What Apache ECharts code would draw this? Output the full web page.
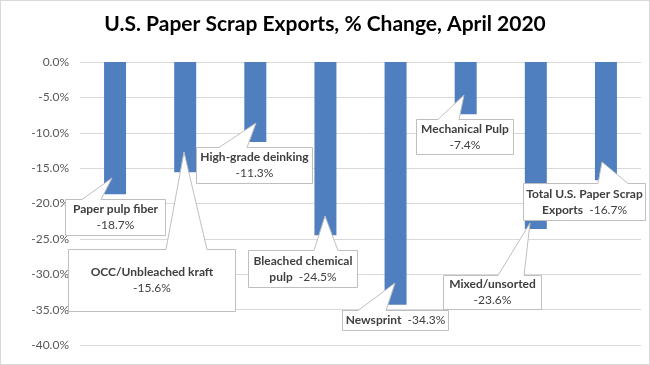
<!DOCTYPE html>
<html>
<head>
<meta charset="utf-8">
<script src="https://cdn.jsdelivr.net/npm/echarts@6/dist/echarts.min.js"></script>
<style>
html,body{margin:0;padding:0;background:#fff;}
#chart{width:648px;height:363px;border:1px solid #d9d9d9;}
</style>
</head>
<body>
<div id="chart"></div>
<script>
const titleText = 'U.S. Paper Scrap Exports, % Change, April 2020';
const categories = ['Paper pulp fiber','OCC/Unbleached kraft','High-grade deinking','Bleached chemical pulp','Newsprint','Mechanical Pulp','Mixed/unsorted','Total U.S. Paper Scrap Exports'];
const values = [-18.7, -15.6, -11.3, -24.5, -34.3, -7.4, -23.6, -16.7];
const calloutNames = ['Paper pulp fiber','OCC/Unbleached kraft','High-grade deinking','Bleached chemical\npulp','Newsprint','Mechanical Pulp','Mixed/unsorted','Total U.S. Paper Scrap\nExports'];
const yMin = -40, yMax = 0, yStep = 5;

// callout layout (pixel offsets relative to bar centre / bar end)
const calloutLayout = [
  {tip:[-3,-16], box:[-50,5,50,41],   base:[-33,-14], inline:false},
  {tip:[-1,-20], box:[-117,77,50,139], base:[-19,22],  inline:false},
  {tip:[1,-19],  box:[-59,5,57,41],   base:[-36,-8],  inline:false},
  {tip:[0,-19],  box:[-77,15,32,52],  base:[-11,13],  inline:true},
  {tip:[-1,-22], box:[-54,5,52,25],   base:[-38,-10], inline:true},
  {tip:[-2,-19], box:[-50,5,47,40],   base:[-28,-7],  inline:false},
  {tip:[-6,-6],  box:[-93,46,5,80],   base:[-38,-12], inline:false},
  {tip:[-4,-18], box:[-83,3,39,40],   base:[-8,22],   inline:true}
];

const fmt = v => v.toFixed(1) + '%';
const chart = echarts.init(document.getElementById('chart'));

function renderCallout(params, api) {
  const i = params.dataIndex;
  const L = calloutLayout[i];
  const p = api.coord([api.value(0), api.value(1)]);
  const cx = Math.round(p[0]), ey = Math.round(p[1]);
  const x0 = cx + L.box[0] + 0.5, y0 = ey + L.box[1] + 0.5;
  const x1 = cx + L.box[2] + 0.5, y1 = ey + L.box[3] + 0.5;
  const pts = [
    [x0, y0], [cx + L.base[0], y0], [cx + L.tip[0], ey + L.tip[1]],
    [cx + L.base[1], y0], [x1, y0], [x1, y1], [x0, y1]
  ];
  const lines = calloutNames[i].split('\n');
  const val = fmt(values[i]);
  let txt = lines.map(s => '{b|' + s + '}');
  if (L.inline) {
    txt[txt.length - 1] += '{v|  ' + val + '}';
  } else {
    txt.push('{v|' + val + '}');
  }
  return {
    type: 'group',
    children: [
      {type: 'polygon', shape: {points: pts},
       style: {fill: '#ffffff', stroke: '#bfbfbf', lineWidth: 1}},
      {type: 'text', x: (x0 + x1) / 2, y: (y0 + y1) / 2,
       style: {text: txt.join('\n'), align: 'center', verticalAlign: 'middle',
         rich: {
           b: {fontFamily: 'Lato', fontWeight: 'bold', fontSize: 12, fill: '#404040', lineHeight: 16},
           v: {fontFamily: 'Lato', fontWeight: 'normal', fontSize: 12, fill: '#404040', lineHeight: 16}
         }}}
    ]
  };
}

chart.setOption({
  animation: false,
  title: {
    text: titleText, left: 'center', top: 8,
    textStyle: {fontFamily: 'Lato', fontWeight: 'bold', fontSize: 21, color: '#000'}
  },
  grid: {left: 79, right: 8, top: 61, bottom: 19, containLabel: false},
  xAxis: {
    type: 'category', data: categories,
    axisLine: {show: false}, axisTick: {show: false}, axisLabel: {show: false}, splitLine: {show: false}
  },
  yAxis: {
    type: 'value', min: yMin, max: yMax, interval: yStep,
    axisLine: {show: false}, axisTick: {show: false},
    axisLabel: {formatter: v => fmt(v), fontFamily: 'Lato', fontSize: 12, color: '#595959', margin: 11},
    splitLine: {lineStyle: {color: '#d9d9d9', width: 1}}
  },
  series: [
    {type: 'bar', data: values, barWidth: 22, itemStyle: {color: '#4f7fbf'}, z: 2},
    {type: 'custom', renderItem: renderCallout, z: 5,
     data: values.map((v, i) => [i, v]), encode: {x: 0, y: 1}}
  ]
});
</script>
</body>
</html>
